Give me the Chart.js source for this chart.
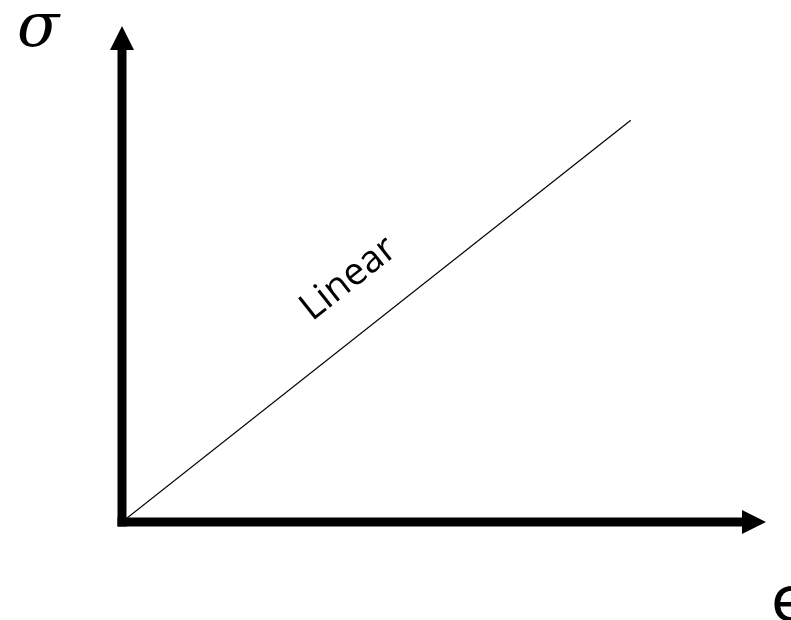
<!DOCTYPE html>
<html>
<head>
<meta charset="utf-8">
<script src="https://cdn.jsdelivr.net/npm/chart.js@4"></script>
<style>
  html, body { margin: 0; padding: 0; background: #fff; }
  #wrap { width: 791px; height: 620px; position: relative; }
</style>
</head>
<body>
<div id="wrap"><canvas id="graphCanvas"></canvas></div>
<script>
// values (axes run 0..1 up to the arrow tips)
var strain = [0, 0.79];
var stress = [0, 0.81];
var lineLabel = 'Linear';
var xAxisLabel = '\u03F5';
var yAxisLabel = '\u03C3';

var points = [];
for (var i in strain) {
    points.push({ x: strain[i], y: stress[i] });
}

// draws the thick axes with arrow heads and the text
var axesPlugin = {
    id: 'axesArrows',
    afterDatasetsDraw: function (chart) {
        var ctx = chart.ctx;
        var xs = chart.scales.x;
        var ys = chart.scales.y;
        var x0 = xs.getPixelForValue(0);
        var y0 = ys.getPixelForValue(0);
        var xTip = xs.getPixelForValue(1);
        var yTip = ys.getPixelForValue(1);
        var head = 24;

        ctx.save();
        ctx.fillStyle = '#000';
        ctx.strokeStyle = '#000';
        ctx.lineWidth = 9;
        ctx.lineCap = 'butt';

        // y axis
        ctx.beginPath();
        ctx.moveTo(x0, y0 + 4.5);
        ctx.lineTo(x0, yTip + head - 1);
        ctx.stroke();
        ctx.beginPath();
        ctx.moveTo(x0, yTip);
        ctx.lineTo(x0 - 12, yTip + head);
        ctx.lineTo(x0 + 12, yTip + head);
        ctx.closePath();
        ctx.fill();

        // x axis
        ctx.beginPath();
        ctx.moveTo(x0 - 4.5, y0);
        ctx.lineTo(xTip - head + 1, y0);
        ctx.stroke();
        ctx.beginPath();
        ctx.moveTo(xTip, y0);
        ctx.lineTo(xTip - head, y0 - 12);
        ctx.lineTo(xTip - head, y0 + 12);
        ctx.closePath();
        ctx.fill();

        // label along the line
        var lx = xs.getPixelForValue(0.352);
        var ly = ys.getPixelForValue(0.49);
        var ang = Math.atan2(ys.getPixelForValue(stress[1]) - y0, xs.getPixelForValue(strain[1]) - x0);
        ctx.translate(lx, ly);
        ctx.rotate(ang);
        ctx.font = '38px "Open Sans"';
        ctx.textAlign = 'center';
        ctx.textBaseline = 'middle';
        ctx.fillText(lineLabel, 0, 0);
        ctx.restore();

        // axis names
        ctx.save();
        ctx.fillStyle = '#000';
        ctx.textBaseline = 'alphabetic';
        ctx.textAlign = 'left';
        ctx.font = 'italic 62px "DejaVu Serif"';
        ctx.fillText(yAxisLabel, 17, 46);
        ctx.font = '62px "DejaVu Sans"';
        ctx.fillText(xAxisLabel, 771, 621);
        ctx.restore();
    }
};

var chartdata = {
    datasets: [{
        label: lineLabel,
        data: points,
        showLine: true,
        borderColor: '#000',
        borderWidth: 1.2,
        pointRadius: 0,
        fill: false
    }]
};

var graphTarget = document.getElementById('graphCanvas');

var lineGraph = new Chart(graphTarget, {
    type: 'scatter',
    data: chartdata,
    plugins: [axesPlugin],
    options: {
        responsive: true,
        maintainAspectRatio: false,
        animation: false,
        layout: { padding: { left: 122, right: 25, top: 26, bottom: 98 } },
        plugins: {
            legend: { display: false },
            tooltip: { enabled: false }
        },
        scales: {
            x: {
                type: 'linear', min: 0, max: 1,
                grid: { display: false, drawTicks: false },
                border: { display: false },
                ticks: { display: false }
            },
            y: {
                type: 'linear', min: 0, max: 1,
                grid: { display: false, drawTicks: false },
                border: { display: false },
                ticks: { display: false }
            }
        }
    }
});
</script>
</body>
</html>
